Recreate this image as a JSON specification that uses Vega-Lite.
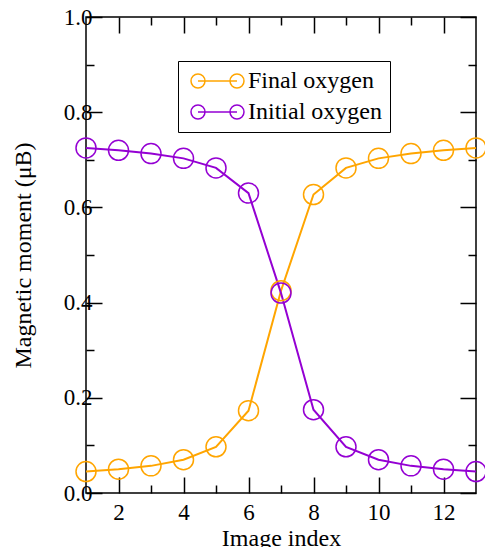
{
  "$schema": "https://vega.github.io/schema/vega-lite/v6.json",
  "width": 390,
  "height": 476,
  "autosize": "none",
  "padding": {"left": 86, "top": 17, "right": 9, "bottom": 54},
  "background": "white",
  "config": {
    "view": {"stroke": "black", "strokeWidth": 1.5},
    "font": "Liberation Serif, DejaVu Serif, serif"
  },
  "data": {
    "values": [
      {"x": 1, "y": 0.045, "series": "Final oxygen"},
      {"x": 2, "y": 0.050, "series": "Final oxygen"},
      {"x": 3, "y": 0.057, "series": "Final oxygen"},
      {"x": 4, "y": 0.070, "series": "Final oxygen"},
      {"x": 5, "y": 0.097, "series": "Final oxygen"},
      {"x": 6, "y": 0.173, "series": "Final oxygen"},
      {"x": 7, "y": 0.425, "series": "Final oxygen"},
      {"x": 8, "y": 0.627, "series": "Final oxygen"},
      {"x": 9, "y": 0.683, "series": "Final oxygen"},
      {"x": 10, "y": 0.703, "series": "Final oxygen"},
      {"x": 11, "y": 0.713, "series": "Final oxygen"},
      {"x": 12, "y": 0.720, "series": "Final oxygen"},
      {"x": 13, "y": 0.725, "series": "Final oxygen"},
      {"x": 1, "y": 0.725, "series": "Initial oxygen"},
      {"x": 2, "y": 0.720, "series": "Initial oxygen"},
      {"x": 3, "y": 0.713, "series": "Initial oxygen"},
      {"x": 4, "y": 0.703, "series": "Initial oxygen"},
      {"x": 5, "y": 0.683, "series": "Initial oxygen"},
      {"x": 6, "y": 0.630, "series": "Initial oxygen"},
      {"x": 7, "y": 0.420, "series": "Initial oxygen"},
      {"x": 8, "y": 0.175, "series": "Initial oxygen"},
      {"x": 9, "y": 0.097, "series": "Initial oxygen"},
      {"x": 10, "y": 0.070, "series": "Initial oxygen"},
      {"x": 11, "y": 0.057, "series": "Initial oxygen"},
      {"x": 12, "y": 0.050, "series": "Initial oxygen"},
      {"x": 13, "y": 0.045, "series": "Initial oxygen"}
    ]
  },
  "layer": [
    {
      "mark": {"type": "line", "strokeWidth": 2},
      "encoding": {
        "x": {
          "field": "x", "type": "quantitative",
          "scale": {"domain": [1, 13], "nice": false, "zero": false},
          "axis": {
            "orient": "bottom",
            "values": [2, 3, 4, 5, 6, 7, 8, 9, 10, 11, 12],
            "labelExpr": "datum.value % 2 === 0 ? datum.label : ''",
            "tickSize": {"condition": {"test": "datum.value % 2 === 0", "value": -16}, "value": -8},
            "tickColor": "black", "tickWidth": 1.5,
            "domain": false, "grid": false,
            "labelFont": "Liberation Serif, DejaVu Serif, serif", "labelFontSize": 23, "labelColor": "black",
            "labelBaseline": "alphabetic",
            "labelPadding": 42,
            "title": "Image index",
            "titleFont": "Liberation Serif, DejaVu Serif, serif", "titleFontSize": 24, "titleFontWeight": "normal", "titleColor": "black",
            "titleBaseline": "alphabetic",
            "titleY": 52
          }
        },
        "y": {
          "field": "y", "type": "quantitative",
          "scale": {"domain": [0, 1], "nice": false, "zero": false},
          "axis": {
            "orient": "left",
            "values": [0, 0.1, 0.2, 0.3, 0.4, 0.5, 0.6, 0.7, 0.8, 0.9, 1.0],
            "labelExpr": "round(datum.value * 10) % 2 === 0 ? format(datum.value, '.1f') : ''",
            "tickSize": {"condition": {"test": "round(datum.value * 10) % 2 === 0", "value": -16}, "value": -8},
            "tickColor": "black", "tickWidth": 1.5,
            "domain": false, "grid": false,
            "labelFont": "Liberation Serif, DejaVu Serif, serif", "labelFontSize": 23, "labelColor": "black",
            "labelPadding": 10,
            "title": "Magnetic moment (μB)",
            "titleFont": "Liberation Serif, DejaVu Serif, serif", "titleFontSize": 24, "titleFontWeight": "normal", "titleColor": "black",
            "titleBaseline": "alphabetic",
            "titleX": -56,
            "titleY": 238
          }
        },
        "color": {
          "field": "series", "type": "nominal",
          "scale": {"domain": ["Final oxygen", "Initial oxygen"], "range": ["#FFA500", "#9400D3"]},
          "legend": {
            "title": null,
            "orient": "none",
            "legendX": 92,
            "legendY": 44,
            "symbolType": "M -1 0 A 1 1 0 1 0 1 0 A 1 1 0 1 0 -1 0 M 0 0 L 5.57 0 M 4.57 0 A 1 1 0 1 0 6.57 0 A 1 1 0 1 0 4.57 0",
            "symbolSize": 196,
            "symbolStrokeWidth": 1.5,
            "symbolFillColor": "transparent",
            "labelOffset": 38,
            "labelFont": "Liberation Serif, DejaVu Serif, serif", "labelFontSize": 24, "labelColor": "black",
            "rowPadding": 7,
            "padding": 8,
            "strokeColor": "black",
            "fillColor": "white"
          }
        }
      }
    },
    {
      "mark": {"type": "point", "filled": false, "size": 400, "strokeWidth": 1.5, "opacity": 1},
      "encoding": {
        "x": {"field": "x", "type": "quantitative", "axis": null},
        "y": {"field": "y", "type": "quantitative", "axis": null},
        "color": {"field": "series", "type": "nominal", "legend": null}
      }
    },
    {
      "mark": {"type": "point", "opacity": 0},
      "encoding": {
        "x": {
          "field": "x", "type": "quantitative",
          "axis": {
            "orient": "top",
            "values": [2, 3, 4, 5, 6, 7, 8, 9, 10, 11, 12],
            "labels": false, "title": null, "domain": false, "grid": false,
            "tickSize": {"condition": {"test": "datum.value % 2 === 0", "value": -16}, "value": -8},
            "tickColor": "black", "tickWidth": 1.5
          }
        },
        "y": {
          "field": "y", "type": "quantitative",
          "axis": {
            "orient": "right",
            "values": [0, 0.1, 0.2, 0.3, 0.4, 0.5, 0.6, 0.7, 0.8, 0.9, 1.0],
            "labels": false, "title": null, "domain": false, "grid": false,
            "tickSize": {"condition": {"test": "round(datum.value * 10) % 2 === 0", "value": -16}, "value": -8},
            "tickColor": "black", "tickWidth": 1.5
          }
        }
      }
    }
  ],
  "resolve": {"axis": {"x": "independent", "y": "independent"}}
}
